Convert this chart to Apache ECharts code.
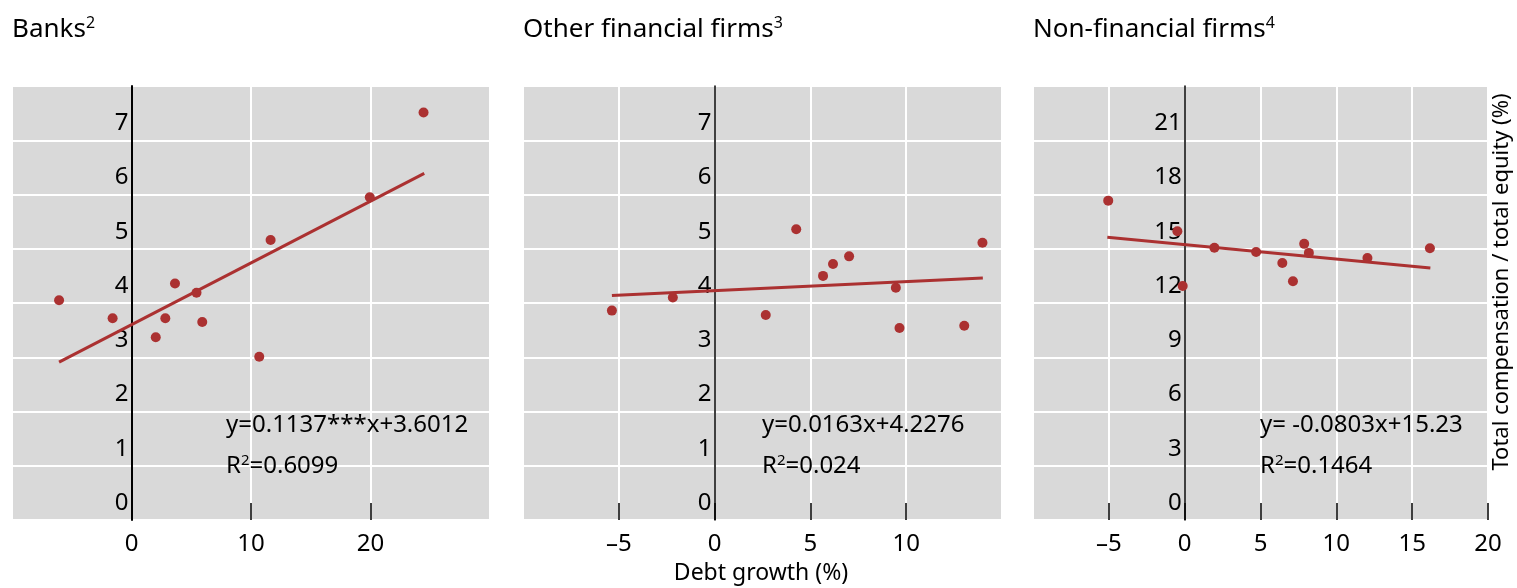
<!DOCTYPE html>
<html>
<head>
<meta charset="utf-8">
<script src="https://cdn.jsdelivr.net/npm/echarts@6/dist/echarts.min.js"></script>
<style>
html,body{margin:0;padding:0;background:#fff;}
#chart{width:1517px;height:588px;}
</style>
</head>
<body>
<div id="chart"></div>
<script>
// ---- data ----
const panelTitles = ['Banks', 'Other financial firms', 'Non-financial firms'];
const panelNotes = ['2', '3', '4'];
const banksPoints = [[-6.06,4.05],[-1.58,3.72],[2.03,3.37],[2.83,3.72],[3.64,4.36],[5.44,4.19],[5.92,3.65],[10.69,3.01],[11.64,5.16],[19.94,5.95],[24.44,7.51]];
const otherPoints = [[-5.36,3.86],[-2.18,4.10],[2.67,3.78],[4.26,5.36],[5.66,4.50],[6.18,4.72],[7.02,4.86],[9.46,4.28],[9.65,3.54],[13.03,3.58],[13.98,5.11]];
const nonfinPoints = [[-5.04,17.66],[-0.48,15.97],[-0.13,12.94],[1.96,15.06],[4.71,14.82],[6.44,14.21],[7.14,13.20],[7.88,15.27],[8.19,14.77],[12.05,14.49],[16.17,15.03]];
const banksTrend = [[-6.06,2.91],[24.5,6.39]];
const otherTrend = [[-5.36,4.14],[14.0,4.46]];
const nonfinTrend = [[-5.1,15.64],[16.2,13.93]];
const equations = ['y=0.1137***x+3.6012', 'y=0.0163x+4.2276', 'y= -0.0803x+15.23'];
const rSquared = ['0.6099', '0.024', '0.1464'];
const xRanges = [[-10,30,10],[-10,15,5],[-10,20,5]];
const yRanges = [[0,8,1],[0,8,1],[0,24,3]];
const xTitle = 'Debt growth (%)';
const yTitle = 'Total compensation / total equity (%)';

// ---- layout / styles ----
const FONT = '"Noto Sans", "DejaVu Sans", sans-serif';
const RED = '#ab3131';
const grids = [
  {left:12, top:86, width:478, height:434},
  {left:523, top:86, width:479, height:434},
  {left:1033, top:86, width:455, height:434}
];
const titleX = [12, 523, 1033];
const eqX = [226, 762, 1260];
const axisW = [2, 1.5, 1.5];

const option = {
  animation:false,
  textStyle:{fontFamily:FONT},
  grid: grids.map(g => Object.assign({show:true, backgroundColor:'#d9d9d9', borderWidth:0, containLabel:false, outerBoundsMode:'none'}, g)),
  xAxis: xRanges.map((r,i) => ({
    type:'value', gridIndex:i, min:r[0], max:r[1], interval:r[2],
    axisLine:{show:false, onZero:false},
    axisTick:{show:true, inside:true, length:17, lineStyle:{color:'#000', width:1.5}},
    axisLabel:{fontSize:24, color:'#000', fontFamily:FONT, margin:12, showMinLabel:false, showMaxLabel:(i===2),
      formatter: v => String(v).replace('-', '\u2013')},
    splitLine:{show:true, lineStyle:{color:'#fff', width:2}}
  })),
  yAxis: yRanges.map((r,i) => {
    const xr = xRanges[i];
    const zeroOffset = -grids[i].width * (0 - xr[0]) / (xr[1] - xr[0]);
    return {
      type:'value', gridIndex:i, min:r[0], max:r[1], interval:r[2], position:'left', offset:zeroOffset,
      axisLine:{show:true, onZero:false, lineStyle:{color:'#000', width:axisW[i]}},
      axisTick:{show:false},
      axisLabel:{fontSize:24, color:'#000', fontFamily:FONT, margin:3, verticalAlign:'bottom', lineHeight:34, showMaxLabel:false},
      splitLine:{show:true, lineStyle:{color:'#fff', width:2}}
    };
  }),
  series: [
    {type:'line', xAxisIndex:0, yAxisIndex:0, data:banksTrend, showSymbol:false, silent:true, lineStyle:{color:RED, width:3}, z:2},
    {type:'line', xAxisIndex:1, yAxisIndex:1, data:otherTrend, showSymbol:false, silent:true, lineStyle:{color:RED, width:3}, z:2},
    {type:'line', xAxisIndex:2, yAxisIndex:2, data:nonfinTrend, showSymbol:false, silent:true, lineStyle:{color:RED, width:3}, z:2},
    {type:'scatter', xAxisIndex:0, yAxisIndex:0, data:banksPoints, symbolSize:10, itemStyle:{color:RED, opacity:1}, z:3},
    {type:'scatter', xAxisIndex:1, yAxisIndex:1, data:otherPoints, symbolSize:10, itemStyle:{color:RED, opacity:1}, z:3},
    {type:'scatter', xAxisIndex:2, yAxisIndex:2, data:nonfinPoints, symbolSize:10, itemStyle:{color:RED, opacity:1}, z:3}
  ],
  graphic: []
};

const supRich = {
  s:{fontSize:16, fontFamily:FONT, fill:'#000', verticalAlign:'top', lineHeight:30},
  b:{fontSize:26, fontFamily:FONT, fill:'#000', lineHeight:30}
};
const eqRich = {
  s:{fontSize:15, fontFamily:FONT, fill:'#000', verticalAlign:'top', lineHeight:26},
  b:{fontSize:24, fontFamily:FONT, fill:'#000', lineHeight:26}
};

for (let i=0;i<3;i++){
  option.graphic.push({
    type:'text', x:titleX[i], y:30, z:10,
    style:{text:'{b|'+panelTitles[i]+'}{s|'+panelNotes[i]+'}', align:'left', verticalAlign:'middle', rich:supRich}
  });
  option.graphic.push({
    type:'text', x:eqX[i], y:425, z:10,
    style:{text:equations[i], fontSize:24, fontFamily:FONT, fill:'#000', align:'left', verticalAlign:'middle'}
  });
  option.graphic.push({
    type:'text', x:eqX[i], y:466, z:10,
    style:{text:'{b|R}{s|2}{b|='+rSquared[i]+'}', align:'left', verticalAlign:'middle', rich:eqRich}
  });
}
option.graphic.push({
  type:'text', x:761, y:573, z:10,
  style:{text:xTitle, fontSize:23, fontFamily:FONT, fill:'#000', align:'center', verticalAlign:'middle'}
});
option.graphic.push({
  type:'text', x:1502, y:282, rotation:Math.PI/2, z:10,
  style:{text:yTitle, fontSize:22, fontFamily:FONT, fill:'#000', align:'center', verticalAlign:'middle'}
});

const chart = echarts.init(document.getElementById('chart'), null, {renderer:'canvas'});
chart.setOption(option);
</script>
</body>
</html>
